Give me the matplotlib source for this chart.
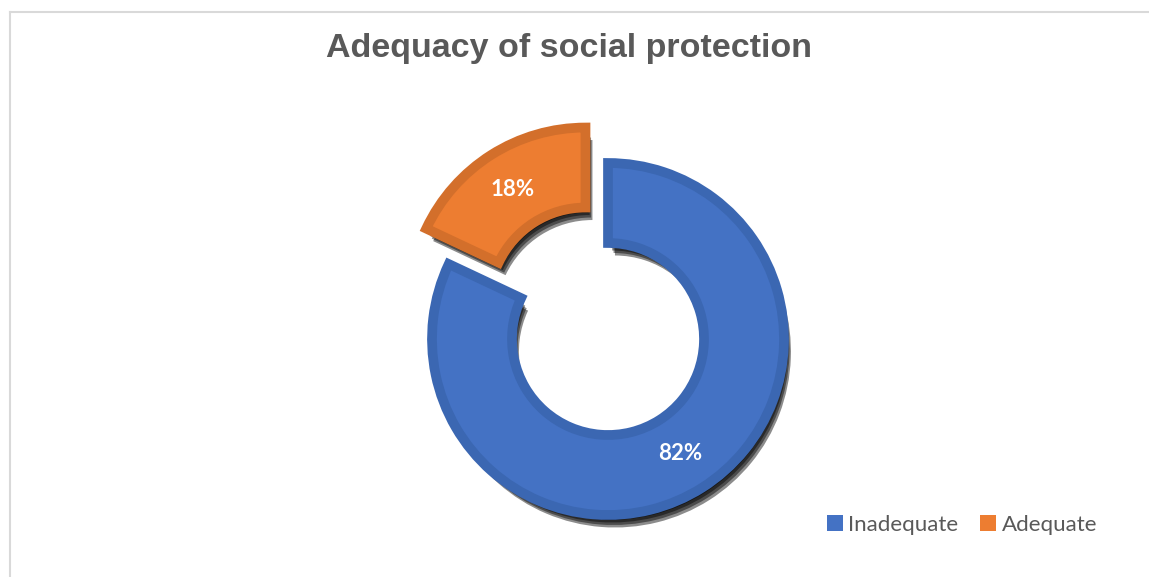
import matplotlib.pyplot as plt
import matplotlib.patheffects as pe
from matplotlib.patches import Patch

# data
labels = ['Inadequate', 'Adequate']
values = [82, 18]
colors = ['#4472C4', '#ED7D31']
edge_colors = ['#3B67B2', '#D36F2B']

fig = plt.figure(figsize=(11.49, 5.77), dpi=100)
ax = fig.add_axes([0, 0, 1, 1])

# chart border (right/bottom sides fall off the picture)
ax.plot([9.5, 1149], [565.5, 565.5], color='#D9D9D9', lw=1.5)
ax.plot([9.5, 9.5], [0, 565.5], color='#D9D9D9', lw=1.5)

radius = 176
wedges, texts, autotexts = ax.pie(
    values, startangle=90, counterclock=False,
    radius=radius, center=(608, 238),
    explode=[0, 42],
    colors=colors,
    autopct='%1.0f%%', pctdistance=135.5 / radius,
    wedgeprops=dict(width=80, linewidth=7, joinstyle='miter'),
    textprops=dict(color='white', fontsize=16, fontweight='bold', family='Lato'),
    frame=True,
)
ax.set_xlim(0, 1149)
ax.set_ylim(0, 577)
ax.axis('off')

# soft drop shadow made from several stacked offsets
shadow = [pe.SimplePatchShadow(offset=(1.0 * k, -1.8 * k), shadow_rgbFace='black', alpha=0.45)
          for k in range(1, 6)]
for w, ec in zip(wedges, edge_colors):
    w.set_edgecolor(ec)
    w.set_path_effects(shadow + [pe.Normal()])

ax.text(569, 577 - 48, 'Adequacy of social protection', ha='center', va='center',
        fontsize=24.5, fontweight='bold', color='#595959', family='Liberation Sans')

handles = [Patch(facecolor=c, edgecolor='none') for c in colors]
fig.legend(handles, labels, loc='center left', bbox_to_anchor=(807 / 1149, 1 - 525 / 577),
           ncol=2, frameon=False, prop=dict(family='Lato', size=16),
           labelcolor='#595959', handlelength=0.7, handleheight=0.7,
           handletextpad=0.25, columnspacing=1.0)

fig.savefig('out.png', dpi=100)
